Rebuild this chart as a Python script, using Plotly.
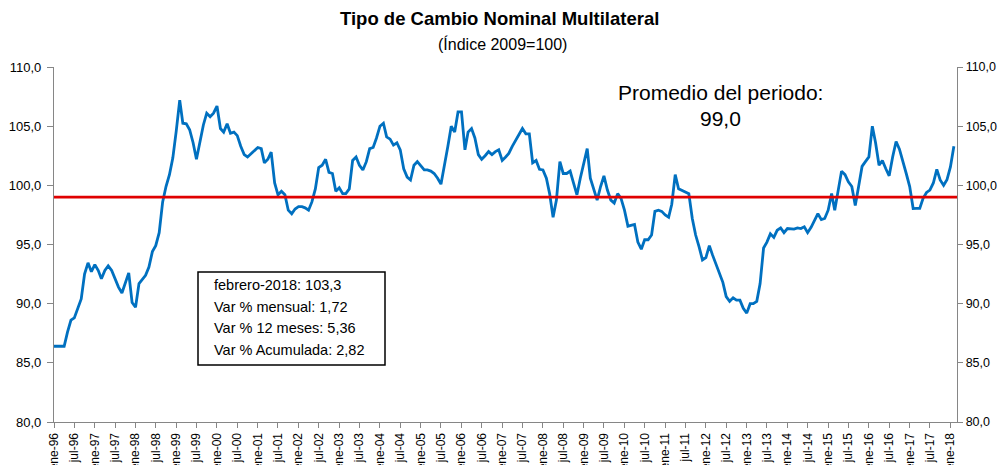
import pandas as pd
import plotly.graph_objects as go

# ---------------- data ----------------
START = "1996-01-01"
VALUES = [
    86.4, 86.4, 86.4, 86.4, 87.6, 88.6, 88.8, 89.7, 90.4, 92.5,   # 1996
    93.45, 92.7,
    93.3, 92.8, 92.1, 92.8, 93.2, 92.8, 92.1, 91.4, 90.9, 91.7,   # 1997
    92.6, 90.1,
    89.7, 91.7, 92.0, 92.4, 93.1, 94.4, 94.9, 96.0, 98.6, 99.9,   # 1998
    100.9, 102.3,
    104.6, 107.2, 105.25, 105.2, 104.7, 103.6, 102.2, 103.8, 105.1, 106.1,  # 1999
    105.8, 106.1,
    106.7, 104.8, 104.5, 105.2, 104.4, 104.5, 104.2, 103.3, 102.6, 102.4,   # 2000
    102.7, 102.9,
    103.2, 103.1, 101.9, 102.2, 102.8, 100.2, 99.2, 99.5, 99.2, 97.9,       # 2001
    97.6, 98.0,
    98.2, 98.2, 98.1, 97.9, 98.6, 99.7, 101.5, 101.7, 102.2, 101.1,         # 2002
    101.0, 99.5,
    99.8, 99.3, 99.3, 99.7, 102.1, 102.4, 101.7, 101.3, 102.0, 103.1,       # 2003
    103.2, 104.0,
    105.0, 105.25, 104.1, 103.9, 103.4, 103.6, 103.0, 101.4, 100.7, 100.45, # 2004
    101.7, 102.0,
    101.6, 101.3, 101.3, 101.2, 101.0, 100.6, 100.1, 101.6, 103.3, 105.0,   # 2005
    104.5, 106.2,
    106.2, 103.0, 104.5, 104.8, 104.0, 102.6, 102.2, 102.5, 102.85, 102.6,  # 2006
    102.85, 103.0,
    102.1, 102.4, 102.7, 103.3, 103.8, 104.3, 104.8, 104.35, 104.35, 101.9, # 2007
    102.1, 101.35,
    101.3, 100.6, 99.3, 97.3, 98.75, 102.0, 101.0, 101.0, 101.2, 100.2,     # 2008
    99.2, 100.6,
    101.9, 103.1, 100.6, 99.6, 98.75, 99.9, 100.8, 99.6, 98.75, 98.5,       # 2009
    99.3, 98.9,
    97.9, 96.55, 96.6, 96.7, 95.2, 94.6, 95.4, 95.4, 95.8, 97.8,            # 2010
    97.9, 97.8,
    97.5, 97.3, 98.4, 100.9, 99.7, 99.55, 99.4, 99.3, 97.2, 95.8,           # 2011
    94.8, 93.7,
    93.9, 94.9, 94.1, 93.3, 92.7, 91.8, 90.6, 90.2, 90.5, 90.3,             # 2012
    90.3, 89.6,
    89.2, 90.0, 90.0, 90.2, 91.7, 94.7, 95.2, 95.9, 95.6, 96.2,             # 2013
    96.4, 96.0,
    96.35, 96.3, 96.3, 96.4, 96.35, 96.5, 96.0, 96.45, 97.1, 97.6,          # 2014
    97.1, 97.2,
    97.9, 99.3, 97.9, 99.7, 101.2, 100.9, 100.3, 99.9, 98.3, 99.9,          # 2015
    101.6, 102.0,
    102.4, 105.0, 103.6, 101.7, 102.1, 101.4, 100.8, 102.4, 103.7, 103.05,  # 2016
    102.1, 101.0,
    99.9, 98.04, 98.05, 98.05, 98.9, 99.4, 99.6, 100.2, 101.35, 100.45,     # 2017
    100.0, 100.47,
    101.55, 103.3,                                                          # 2018
]
AVERAGE = 99.0
Y_TICKS = [80, 85, 90, 95, 100, 105, 110]
TITLE = "Tipo de Cambio Nominal Multilateral"
SUBTITLE = "(Índice 2009=100)"
AVG_LABEL = "Promedio del periodo:"
AVG_VALUE = "99,0"
STATS = [
    "febrero-2018: 103,3",
    "Var % mensual: 1,72",
    "Var % 12 meses: 5,36",
    "Var % Acumulada: 2,82",
]
MONTH_ABBR = {1: "ene", 7: "jul"}

# ---------------- build ----------------
dates = pd.date_range(START, periods=len(VALUES), freq="MS")
tick_dates = pd.date_range(START, "2018-01-01", freq="6MS")
tick_text = [f"{MONTH_ABBR[d.month]}-{d.year % 100:02d}" for d in tick_dates]

FONT = "Arial, 'Liberation Sans', sans-serif"
AXIS_COLOR = "#868686"
BLUE = "#0070C0"
RED = "#E00000"

fig = go.Figure()
fig.add_trace(go.Scatter(
    x=dates, y=VALUES, mode="lines",
    line=dict(color=BLUE, width=2.8), showlegend=False, hoverinfo="x+y",
))
# invisible trace to activate the right-hand axis
fig.add_trace(go.Scatter(
    x=[dates[0]], y=[AVERAGE], yaxis="y2", mode="markers",
    marker=dict(opacity=0), showlegend=False, hoverinfo="skip",
))

# average line
fig.add_shape(type="line", xref="paper", x0=0, x1=1, yref="y", y0=AVERAGE, y1=AVERAGE,
              line=dict(color=RED, width=2.8))

# stats box
PW, PH, ML, MT = 903, 355, 54, 67
def px(xp):
    return (xp - ML) / PW
def py(yp):
    return (MT + PH - yp) / PH

fig.add_shape(type="rect", xref="paper", yref="paper",
              x0=px(198), x1=px(385), y0=py(365), y1=py(272),
              line=dict(color="black", width=1.5), fillcolor="white", layer="above")
for i, txt in enumerate(STATS):
    fig.add_annotation(xref="paper", yref="paper", x=px(212), y=py(285 + 21.5 * i),
                       xanchor="left", yanchor="middle", text=txt, showarrow=False,
                       font=dict(family=FONT, size=14.5, color="black"))

fig.add_annotation(xref="paper", yref="paper", x=px(720), y=py(92), text=AVG_LABEL,
                   showarrow=False, xanchor="center", yanchor="middle",
                   font=dict(family=FONT, size=21, color="black"))
fig.add_annotation(xref="paper", yref="paper", x=px(720), y=py(118), text=AVG_VALUE,
                   showarrow=False, xanchor="center", yanchor="middle",
                   font=dict(family=FONT, size=21, color="black"))

fig.add_annotation(xref="paper", yref="paper", x=px(499), y=py(19), text=f"<b>{TITLE}</b>",
                   showarrow=False, xanchor="center", yanchor="middle",
                   font=dict(family=FONT, size=18.5, color="black"))
fig.add_annotation(xref="paper", yref="paper", x=px(502), y=py(44), text=SUBTITLE,
                   showarrow=False, xanchor="center", yanchor="middle",
                   font=dict(family=FONT, size=16, color="black"))

yaxis_common = dict(
    range=[80, 110], tickvals=Y_TICKS, tickformat=".1f",
    ticks="outside", tickcolor=AXIS_COLOR, tickwidth=1,
    showline=True, linecolor=AXIS_COLOR, linewidth=1.3,
    showgrid=False, zeroline=False, automargin=False, fixedrange=True,
)

fig.update_layout(
    width=1001, height=465, autosize=False,
    margin=dict(l=ML, r=1001 - ML - PW, t=MT, b=465 - MT - PH, pad=0),
    paper_bgcolor="white", plot_bgcolor="white",
    separators=",.",
    font=dict(family=FONT, color="black"),
    xaxis=dict(
        type="date", range=[START, "2018-03-01"],
        tickvals=tick_dates, ticktext=tick_text, tickangle=-90,
        ticks="outside", ticklen=5, tickcolor=AXIS_COLOR, tickwidth=1,
        showline=True, linecolor=AXIS_COLOR, linewidth=1.3,
        showgrid=False, zeroline=False, automargin=False, fixedrange=True,
        tickfont=dict(family=FONT, size=12, color="black"),
    ),
    yaxis=dict(side="left", ticklen=6, ticklabelstandoff=3,
               tickfont=dict(family=FONT, size=13, color="black"), **yaxis_common),
    yaxis2=dict(side="right", overlaying="y", ticklen=5, ticklabelstandoff=0,
                tickfont=dict(family=FONT, size=12.5, color="black"), **yaxis_common),
    showlegend=False,
)

fig.write_html(
    "out.html",
    config={"displayModeBar": False},
    post_script="document.body.style.margin='0';document.body.style.overflow='hidden';",
)
